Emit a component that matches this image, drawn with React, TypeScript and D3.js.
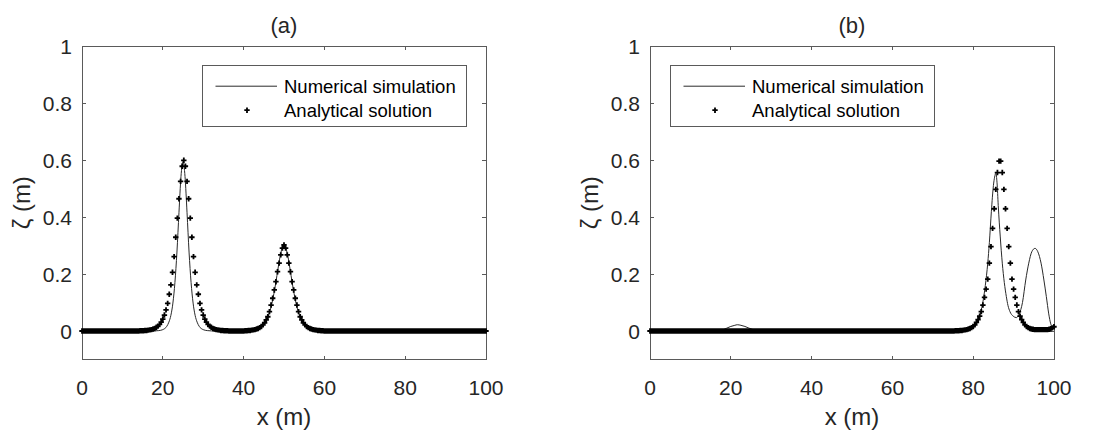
import React from 'react';
import * as d3 from 'd3';

// panel (a): analytical solution, sampled every 0.4 m from 0 to 100 m
const anaA = [
  0, 0, 0, 0, 0, 0, 0, 0, 0, 0,
  0, 0, 0, 0, 0, 0, 0, 0, 0, 0,
  0, 0, 0, 0, 0, 0, 0, 0, 0, 0,
  0, 0, 0, 0, 0, 0,
  0.001, 0.001, 0.001, 0.002, 0.002, 0.003, 0.004, 0.005, 0.007, 0.009, 0.013, 0.017, 0.023, 0.031,
  0.042, 0.056, 0.074, 0.097, 0.129, 0.162, 0.206, 0.261, 0.329, 0.396, 0.464, 0.525, 0.578,
  0.599,
  0.578, 0.525, 0.464, 0.396, 0.329, 0.261, 0.206, 0.162, 0.129, 0.097, 0.074, 0.056, 0.042,
  0.031, 0.023, 0.017, 0.013, 0.009, 0.007, 0.005, 0.004, 0.003, 0.002, 0.002, 0.001, 0.001, 0.001,
  0, 0, 0, 0, 0, 0, 0, 0, 0, 0,
  0.001, 0.001, 0.002, 0.002, 0.003, 0.004, 0.005, 0.007, 0.009, 0.012, 0.016, 0.022,
  0.029, 0.039, 0.05, 0.068, 0.091, 0.115, 0.144, 0.173, 0.208, 0.238, 0.267, 0.291,
  0.302,
  0.291, 0.267, 0.238, 0.208, 0.173, 0.144, 0.115, 0.091, 0.068, 0.05, 0.039, 0.029,
  0.022, 0.016, 0.012, 0.009, 0.007, 0.005, 0.004, 0.003, 0.002, 0.002, 0.001, 0.001,
  0, 0, 0, 0, 0, 0, 0, 0, 0, 0,
  0, 0, 0, 0, 0, 0, 0, 0, 0, 0,
  0, 0, 0, 0, 0, 0, 0, 0, 0, 0,
  0, 0, 0, 0, 0, 0, 0, 0, 0, 0,
  0, 0, 0, 0, 0, 0, 0, 0, 0, 0,
  0, 0, 0, 0, 0, 0, 0, 0, 0, 0,
  0, 0, 0, 0, 0, 0, 0, 0, 0, 0,
  0, 0, 0, 0, 0, 0, 0, 0, 0, 0,
  0, 0, 0, 0, 0, 0, 0, 0, 0, 0,
  0, 0, 0, 0, 0, 0, 0, 0, 0, 0,
  0,
];

// panel (b): analytical solution, same grid
const anaB = [
  0, 0, 0, 0, 0, 0, 0, 0, 0, 0,
  0, 0, 0, 0, 0, 0, 0, 0, 0, 0,
  0, 0, 0, 0, 0, 0, 0, 0, 0, 0,
  0, 0, 0, 0, 0, 0, 0, 0, 0, 0,
  0, 0, 0, 0, 0, 0, 0, 0, 0, 0,
  0, 0, 0, 0, 0, 0, 0, 0, 0, 0,
  0, 0, 0, 0, 0, 0, 0, 0, 0, 0,
  0, 0, 0, 0, 0, 0, 0, 0, 0, 0,
  0, 0, 0, 0, 0, 0, 0, 0, 0, 0,
  0, 0, 0, 0, 0, 0, 0, 0, 0, 0,
  0, 0, 0, 0, 0, 0, 0, 0, 0, 0,
  0, 0, 0, 0, 0, 0, 0, 0, 0, 0,
  0, 0, 0, 0, 0, 0, 0, 0, 0, 0,
  0, 0, 0, 0, 0, 0, 0, 0, 0, 0,
  0, 0, 0, 0, 0, 0, 0, 0, 0, 0,
  0, 0, 0, 0, 0, 0, 0, 0, 0, 0,
  0, 0, 0, 0, 0, 0, 0, 0, 0, 0,
  0, 0, 0, 0, 0, 0, 0, 0, 0, 0,
  0, 0, 0, 0, 0, 0, 0, 0, 0,
  0.001, 0.001, 0.001, 0.002, 0.002, 0.003, 0.004, 0.005, 0.007, 0.009,
  0.012, 0.016, 0.022, 0.03, 0.04, 0.052, 0.068, 0.091, 0.118, 0.147,
  0.182, 0.238, 0.296, 0.36, 0.429, 0.497, 0.556, 0.596,
  0.596, 0.556, 0.497, 0.429, 0.36, 0.296, 0.238, 0.182, 0.147, 0.118,
  0.091, 0.068, 0.052, 0.04, 0.03, 0.022, 0.016, 0.012, 0.009, 0.007,
  0.006, 0.005, 0.005, 0.005, 0.005, 0.005, 0.005, 0.005, 0.005, 0.005,
  0.006, 0.008, 0.011, 0.015,
];

// numerical simulation [x (m), zeta (m)]
const numA: [number, number][] = [
  [0, 0], [10, 0], [16, 0], [17, 0], [18, 0.0004], [19, 0.0014], [20, 0.0048], [21, 0.0167],
  [21.5, 0.031], [22, 0.055], [22.5, 0.098], [23, 0.17], [23.5, 0.277], [24, 0.415], [24.5, 0.542],
  [25, 0.595], [25.5, 0.542], [26, 0.415], [26.5, 0.277], [27, 0.17], [27.5, 0.098], [28, 0.055],
  [28.5, 0.031], [29, 0.0167], [30, 0.0048], [31, 0.0014], [32, 0.0004], [33, 0], [36, 0], [40, 0],
  [41, 0.001], [42, 0.002], [43, 0.005], [44, 0.011], [45, 0.023], [45.5, 0.034], [46, 0.049],
  [46.5, 0.069], [47, 0.096], [47.5, 0.131], [48, 0.172], [48.5, 0.217], [49, 0.259], [49.5, 0.289],
  [50, 0.3], [50.5, 0.289], [51, 0.259], [51.5, 0.217], [52, 0.172], [52.5, 0.131], [53, 0.096],
  [53.5, 0.069], [54, 0.049], [54.5, 0.034], [55, 0.023], [56, 0.011], [57, 0.005], [58, 0.002],
  [59, 0.001], [60, 0], [70, 0], [80, 0], [90, 0], [100, 0],
];

const numB: [number, number][] = [
  [0, 0], [10, 0], [15, 0], [17, 0.001], [18, 0.004], [19, 0.01], [20, 0.016], [21, 0.02],
  [21.6, 0.022], [22.5, 0.02], [23.5, 0.016], [24.5, 0.01], [25.5, 0.005], [26.5, 0.002], [27.5, 0],
  [30, 0], [40, 0], [50, 0], [60, 0], [70, 0], [75, 0], [77, 0.001], [78, 0.003], [79, 0.006],
  [80, 0.012], [80.8, 0.025], [81.4, 0.045], [82, 0.075], [82.5, 0.11], [83, 0.16], [83.6, 0.238],
  [84, 0.31], [84.5, 0.42], [85, 0.51], [85.3, 0.54], [85.6, 0.553], [85.9, 0.52], [86.2, 0.44],
  [86.7, 0.33], [87.2, 0.238], [87.7, 0.17], [88.2, 0.121], [88.6, 0.09], [89.1, 0.068],
  [89.9, 0.052], [90.7, 0.047], [91.4, 0.06], [92.2, 0.1], [93, 0.179], [93.75, 0.238],
  [94.5, 0.278], [95.3, 0.29], [96, 0.278], [96.8, 0.238], [97.5, 0.179], [98.1, 0.121],
  [98.7, 0.06], [99.2, 0.025], [99.5, 0.015], [100, 0.015],
];

const xTicks = [0, 20, 40, 60, 80, 100];
const yTicks = [0, 0.2, 0.4, 0.6, 0.8, 1];
const legendLabels = ['Numerical simulation', 'Analytical solution'];

const FONT = '"Liberation Sans", Arial, Helvetica, sans-serif';
const TOP = 46;
const BOTTOM = 359.5;
const PW = 404;
const AXIS = '#5a5a5a';
const TEXT = '#262626';

const plus = (cx: number, cy: number, r = 2.7) =>
  `M${cx - r},${cy}H${cx + r}M${cx},${cy - r}V${cy + r}`;

const Panel = ({ left, title, ana, num, legendLeft }:
  { left: number; title: string; ana: number[]; num: [number, number][]; legendLeft: number }) => {
  const x = d3.scaleLinear().domain([0, 100]).range([left, left + PW]);
  const y = d3.scaleLinear().domain([-0.1, 1]).range([BOTTOM, TOP]);
  const line = d3.line<[number, number]>()
    .x(d => x(d[0]))
    .y(d => y(d[1]))
    .curve(d3.curveMonotoneX);
  const step = 100 / (ana.length - 1);
  const markers = ana.map((v, i) => plus(x(i * step), y(v))).join('');
  const fmt = (t: number) => String(Math.round(t * 10) / 10);
  const x0 = x(0), x1 = x(100), y0 = y(-0.1), y1 = y(1);
  const tl = 4;

  return (
    <g>
      <rect x={x0} y={y1} width={x1 - x0} height={y0 - y1} fill='white'
        stroke={AXIS} strokeWidth={1} shapeRendering='crispEdges' />
      <g stroke={AXIS} strokeWidth={1} shapeRendering='crispEdges'>
        {xTicks.map(t => (
          <g key={'x' + t}>
            <line x1={x(t)} x2={x(t)} y1={y0} y2={y0 - tl} />
            <line x1={x(t)} x2={x(t)} y1={y1} y2={y1 + tl} />
          </g>
        ))}
        {yTicks.map(t => (
          <g key={'y' + t}>
            <line x1={x0} x2={x0 + tl} y1={y(t)} y2={y(t)} />
            <line x1={x1} x2={x1 - tl} y1={y(t)} y2={y(t)} />
          </g>
        ))}
      </g>
      <g fontFamily={FONT} fill={TEXT} fontSize={21}>
        {xTicks.map(t => (
          <text key={'xl' + t} x={x(t)} y={395} textAnchor='middle'>{fmt(t)}</text>
        ))}
        {yTicks.map(t => (
          <text key={'yl' + t} x={x0 - 10} y={y(t) + 7.5} textAnchor='end'>{fmt(t)}</text>
        ))}
      </g>
      <text x={(x0 + x1) / 2} y={33} textAnchor='middle' fontFamily={FONT} fontSize={22}
        fill={TEXT}>{title}</text>
      <text x={(x0 + x1) / 2} y={425} textAnchor='middle' fontFamily={FONT} fontSize={24}
        fill={TEXT}>x (m)</text>
      <text transform={`translate(${x0 - 52},${(y0 + y1) / 2}) rotate(-90)`} textAnchor='middle'
        fontFamily={FONT} fontSize={24} fill={TEXT}>ζ (m)</text>

      <path d={line(num) ?? ''} fill='none' stroke='#2a2a2a' strokeWidth={1} />
      <path d={markers} fill='none' stroke='black' strokeWidth={1.8} />

      <g transform={`translate(${legendLeft},65.7)`}>
        <rect x={0} y={0} width={264} height={61} fill='white' stroke={AXIS}
          strokeWidth={1} shapeRendering='crispEdges' />
        <line x1={13.5} x2={75} y1={20.5} y2={20.5} stroke='#2a2a2a' strokeWidth={1} />
        <path d={plus(45, 44.5)} stroke='black' strokeWidth={1.8} fill='none' />
        <g fontFamily={FONT} fontSize={18.5} fill='black'>
          <text x={82} y={27}>{legendLabels[0]}</text>
          <text x={82} y={51}>{legendLabels[1]}</text>
        </g>
      </g>
    </g>
  );
};

export default function App() {
  return (
    <svg width={1111} height={435} viewBox='0 0 1111 435'
      style={{ position: 'absolute', left: 0, top: 0, background: 'white' }}>
      <rect width={1111} height={435} fill='white' />
      <Panel left={82} title='(a)' ana={anaA} num={numA} legendLeft={202} />
      <Panel left={650} title='(b)' ana={anaB} num={numB} legendLeft={670} />
    </svg>
  );
}
